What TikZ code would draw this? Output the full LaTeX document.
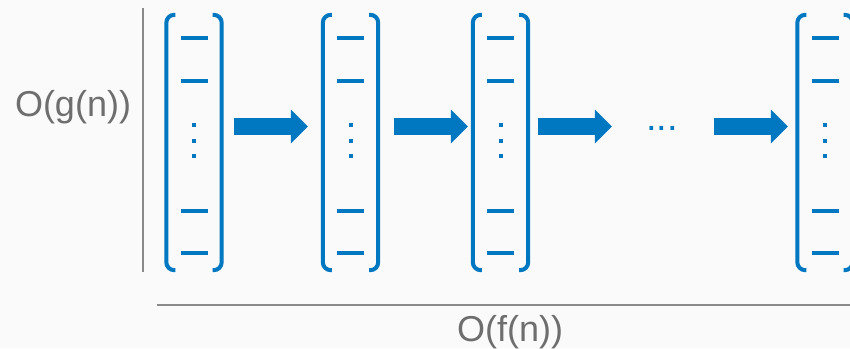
\documentclass[tikz,border=0pt]{standalone}
\usepackage{fontspec}
\setmainfont{Liberation Sans}
\usetikzlibrary{arrows.meta}
\definecolor{blu}{HTML}{0077C1}
\definecolor{axisgrey}{HTML}{8A8A8A}
\definecolor{txtgrey}{HTML}{6E6E6E}
\definecolor{bg}{HTML}{FAFAFA}
\tikzset{
  col/.style={minimum width=55pt, minimum height=255pt, inner sep=0pt, draw=none},
  brk/.style={draw=blu, line width=4pt, rounded corners=8pt},
  dashmark/.style={draw=blu, line width=4pt},
  vdot/.style={fill=blu},
  bigarrow/.style={draw=blu, line width=17pt, -{Triangle[length=17pt,width=33pt,fill=blu]}},
  axisline/.style={draw=axisgrey, line width=2.2pt},
  lbl/.style={text=txtgrey, font=\fontsize{36}{42}\selectfont, inner sep=0pt, anchor=base}
}
\begin{document}
\begin{tikzpicture}[x=1pt, y=-1pt]
\fill[bg] (0,0) rectangle (850,348);
\useasboundingbox (0,0) rectangle (850,348);
\clip (0,0) rectangle (850,348);
% axes
\coordinate (vtop) at (143,8);
\coordinate (vbot) at (143,272);
\coordinate (hl) at (157,305);
\coordinate (hr) at (850,305);
\draw[axisline] (vtop) -- (vbot);
\draw[axisline] (hl) -- (hr);
\node[lbl] (ylab) at (73,116.5) {O(g(n))};
\node[lbl] (xlab) at (510,341) {O(f(n))};
% columns
\foreach \n/\cx in {b1/194, b2/350.5, b3/500.5, b4/825}{
  \node[col] (\n) at (\cx,142.5) {};
  \draw[brk] ([xshift=9pt]\n.north west) -- (\n.north west) -- (\n.south west) -- ([xshift=9pt]\n.south west);
  \draw[brk] ([xshift=-9pt]\n.north east) -- (\n.north east) -- (\n.south east) -- ([xshift=-9pt]\n.south east);
  \foreach \yy in {38,81,211,253}{
    \draw[dashmark] (\cx-13.5,\yy) -- (\cx+13.5,\yy);
  }
  \foreach \yy in {125,140.5,156}{
    \fill[vdot] (\cx-2,\yy-2) rectangle (\cx+2,\yy+2);
  }
}
\node[text=blu, font=\fontsize{38}{40}\selectfont, inner sep=0pt, minimum width=40pt, anchor=base] (ell) at (662,130) {...};
% arrows
\draw[bigarrow, shorten <=12.5pt, shorten >=15pt] ([yshift=16pt]b1.east) -- ([yshift=16pt]b2.west);
\draw[bigarrow, shorten <=16pt, shorten >=5pt] ([yshift=16pt]b2.east) -- ([yshift=16pt]b3.west);
\draw[bigarrow, shorten <=10pt, shorten >=30pt] ([yshift=16pt]b3.east) -- ([yshift=16pt]ell.west |- b3.center);
\draw[bigarrow, shorten <=32pt, shorten >=9.5pt] ([yshift=16pt]ell.east |- b4.center) -- ([yshift=16pt]b4.west);
\end{tikzpicture}
\end{document}
